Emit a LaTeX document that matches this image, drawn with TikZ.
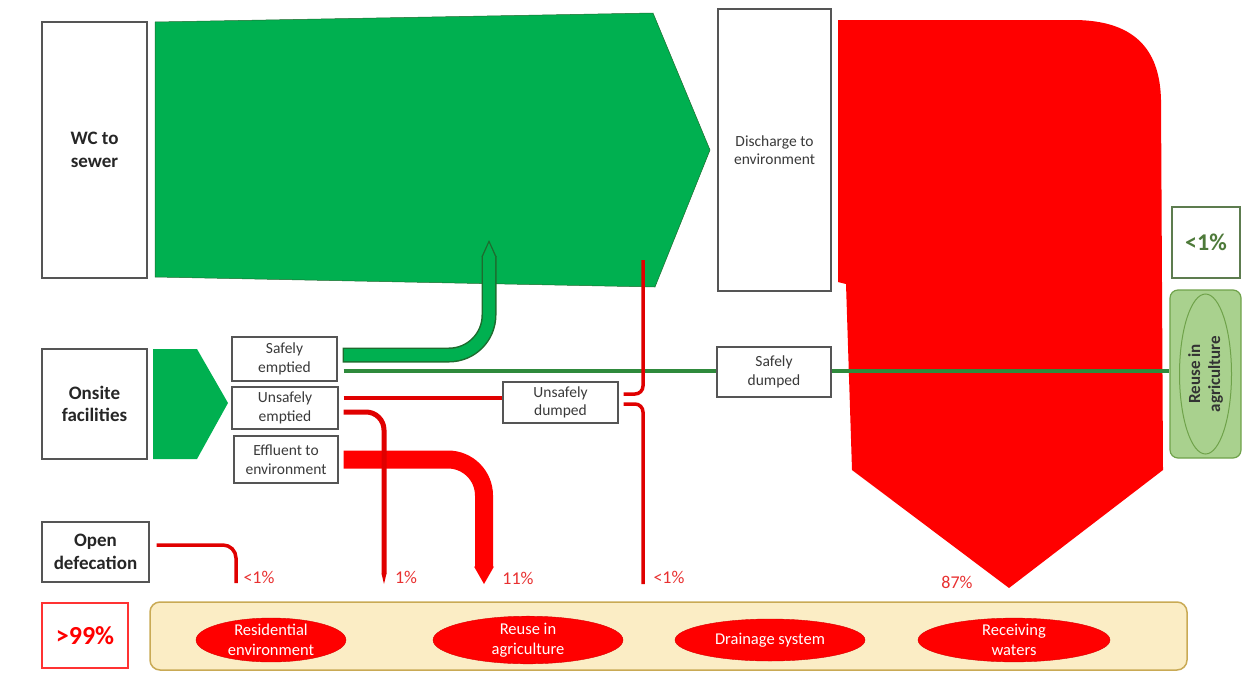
\documentclass[tikz,border=0pt]{standalone}
\usepackage{fontspec}
\setmainfont{Carlito}
\usetikzlibrary{shapes.geometric,calc}
\definecolor{ggreen}{HTML}{00B050}
\definecolor{gdark}{HTML}{2F8A3C}
\definecolor{goutline}{HTML}{1E6B2E}
\definecolor{rred}{HTML}{FF0000}
\definecolor{rline}{HTML}{E00000}
\definecolor{beige}{HTML}{FBEDC5}
\definecolor{beigeb}{HTML}{C9AA55}
\definecolor{lgreen}{HTML}{A9D18E}
\definecolor{lgreenb}{HTML}{6FA24A}
\definecolor{boxgray}{HTML}{555555}
\definecolor{txtgray}{HTML}{3A3A3A}
\definecolor{pctred}{HTML}{E83030}
\definecolor{pctgreen}{HTML}{4E7A3A}
\begin{document}
\begin{tikzpicture}[x=1pt,y=-1pt,
  box/.style={draw=boxgray, line width=1.2pt, fill=white, align=center, inner sep=0pt, text=txtgray, font=\fontsize{15.5}{18.5}\selectfont},
  bigbox/.style={box, font=\fontsize{19}{22.5}\selectfont\bfseries, text=black!85},
  dest/.style={ellipse, fill=rred, draw=rred!85!black, line width=0.4pt, inner sep=0pt, minimum height=42pt, align=center, text=white, font=\fontsize{16.5}{19.5}\selectfont},
  pct/.style={text=pctred, font=\fontsize{18}{20}\selectfont, inner sep=0pt},
  thinred/.style={draw=rline, line width=3.5pt},
  greenline/.style={draw=gdark, line width=4pt}]
\useasboundingbox (0,0) rectangle (1258,675);

% big flows
\fill[ggreen, draw=goutline, line width=0.5pt] (155,22) -- (653,13) -- (710,150) -- (655,287) -- (155,277) -- cycle;
\fill[ggreen] (153,349) -- (197,349) -- (228,403) -- (197,459) -- (153,459) -- cycle;
\fill[rred] (838,20) -- (1073,20) .. controls (1140,20) and (1160,55) .. (1161,100) -- (1163,470) -- (1009,588) -- (852,470) -- (846,284) -- (838,282) -- cycle;

% bottom band
\draw[fill=beige, draw=beigeb, line width=1.5pt, rounded corners=10pt] (150,602) rectangle (1187,670);

% boxes
\node[bigbox, minimum width=105pt, minimum height=256pt] (wc) at (94.5,150) {WC to\\sewer};
\node[bigbox, minimum width=105pt, minimum height=110pt] (onsite) at (94.5,404) {Onsite\\facilities};
\node[bigbox, minimum width=107pt, minimum height=60pt] (open) at (95.5,552) {Open\\defecation};
\node[box, minimum width=113pt, minimum height=282pt] (dis) at (774.5,150) {Discharge to\\environment};
\node[box, minimum width=105pt, minimum height=44pt] (se) at (284.5,359) {Safely\\emptied};
\node[box, minimum width=106pt, minimum height=42pt] (ue) at (285,408) {Unsafely\\emptied};
\node[box, minimum width=104pt, minimum height=47pt] (ef) at (286,459.5) {Effluent to\\environment};
\node[box, minimum width=115pt, minimum height=41pt] (ud) at (560.5,402.5) {Unsafely\\dumped};
\node[box, minimum width=114pt, minimum height=50pt] (sd) at (774,372) {Safely\\dumped};
\node[box, draw=rred!80, minimum width=86pt, minimum height=65pt, text=rred, font=\fontsize{26}{30}\selectfont\bfseries] (p99) at (85,635.5) {>99\%};
\node[box, draw=pctgreen!70!gray, minimum width=68pt, minimum height=71pt, text=pctgreen, font=\fontsize{24}{28}\selectfont\bfseries] (p1) at (1206,242.5) {<1\%};
\node[draw=lgreenb, fill=lgreen, line width=1.2pt, rounded corners=8pt, minimum width=71pt, minimum height=168pt] (reusebox) at (1205.5,374) {};
\node[ellipse, draw=lgreenb, fill=lgreen, line width=1pt, minimum width=52pt, minimum height=160pt, inner sep=0pt] (reuseell) at (reusebox.center) {};
\node[rotate=90, align=center, font=\fontsize{17}{20}\selectfont\bfseries, text=black!80] (reusetxt) at (reuseell.center) {Reuse in\\agriculture};

% destinations
\node[dest, minimum width=150pt] (res) at (271,640) {Residential\\environment};
\node[dest, minimum width=190pt] (agr) at (528,640) {Reuse in\\agriculture};
\node[dest, minimum width=190pt] (drain) at (770,640) {Drainage system};
\node[dest, minimum width=192pt] (recv) at (1014,640) {Receiving\\waters};

% coordinates for connector ends
\coordinate (gtip) at (489,240);
\coordinate (etip) at (484,584);
\coordinate (utip) at (384,584);
\coordinate (btop) at (643,260);
\coordinate (bbot) at (643,584);
\coordinate (otip) at (236,583);

% safely emptied -> sewer (thick green, pointed end)
\draw[goutline, line width=15pt, rounded corners=40pt] ([shift={(5,-4)}]se.east) -- (489,355) -- ([shift={(0,16)}]gtip);
\fill[goutline] ([shift={(-7.5,16.5)}]gtip) -- (gtip) -- ([shift={(7.5,16.5)}]gtip) -- cycle;
\draw[ggreen, line width=12pt, rounded corners=40pt] ([shift={(6.5,-4)}]se.east) -- (489,355) -- ([shift={(0,16)}]gtip);
\fill[ggreen] ([shift={(-6,16.6)}]gtip) -- ([shift={(0,3)}]gtip) -- ([shift={(6,16.6)}]gtip) -- cycle;

% safely emptied -> safely dumped -> reuse
\draw[greenline] ([shift={(6,12)}]se.east) -- (sd.west |- 0,371);
\draw[greenline] (sd.east |- 0,371) -- (reusebox.west |- 0,371);

% effluent -> reuse in agriculture (thick red)
\draw[rred, line width=18pt, rounded corners=36pt] ([xshift=5]ef.east) -- (484,459.5) -- ([shift={(0,-17)}]etip);
\fill[rred] ([shift={(-10,-17.5)}]etip) -- (etip) -- ([shift={(10,-17.5)}]etip) -- cycle;

% unsafely emptied -> unsafely dumped
\draw[thinred, line width=4.5pt] ([shift={(5,-10)}]ue.east) -- (ud.west |- 0,398);
% unsafely emptied -> residential (1%)
\draw[thinred, line width=5pt, rounded corners=18pt] ([shift={(5,4)}]ue.east) -- (384,412) -- ([shift={(0,-10)}]utip);
\fill[rline] ([shift={(-2.5,-10.5)}]utip) -- (utip) -- ([shift={(2.5,-10.5)}]utip) -- cycle;

% unsafely dumped brace
\draw[thinred, rounded corners=8pt] ([shift={(5,-8.5)}]ud.east) -- (643,394) -- (btop);
\draw[thinred, rounded corners=8pt] ([shift={(5,1.5)}]ud.east) -- (643,404) -- (bbot);

% open defecation
\draw[thinred, rounded corners=13pt] ([shift={(7,-7)}]open.east) -- (236,545) -- (otip);

% percentages
\node[pct] (l1) at (259,577) {<1\%};
\node[pct] (l2) at (406,577) {1\%};
\node[pct] (l3) at (518,578) {11\%};
\node[pct] (l4) at (669,577) {<1\%};
\node[pct] (l5) at (957,582) {87\%};
\end{tikzpicture}
\end{document}
